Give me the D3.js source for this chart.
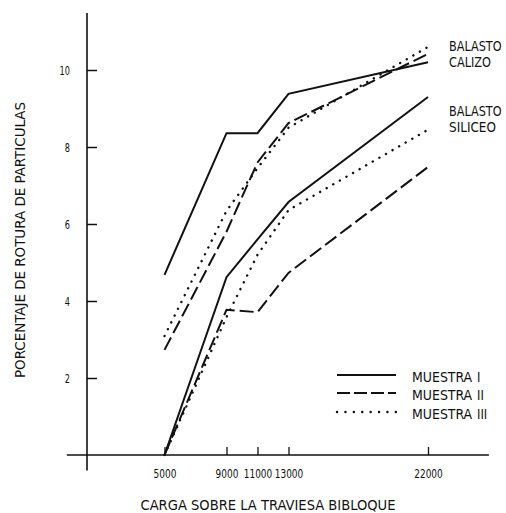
<!DOCTYPE html>
<html>
<head>
<meta charset="utf-8">
<script src="https://cdn.jsdelivr.net/npm/d3@7"></script>
<style>
  html, body { margin: 0; padding: 0; background: #fff; }
  svg text { font-family: "Liberation Sans Narrow", "DejaVu Sans Condensed", "Roboto Condensed", sans-serif; font-stretch: condensed; fill: #111; }
</style>
</head>
<body>
<svg width="506" height="513"></svg>
<script>
// Loads on the bibloque sleeper (x) and breakage percentages (y)
var cargas = [5000, 9000, 11000, 13000, 22000];
var calizoI = [4.68, 8.36, 8.36, 9.38, 10.2];
var calizoII = [2.73, 5.8, 7.6, 8.62, 10.42];
var calizoIII = [3.09, 6.34, 7.45, 8.5, 10.6];
var siliceoI = [0, 4.62, 5.6, 6.57, 9.3];
var siliceoII = [0, 3.77, 3.71, 4.73, 7.48];
var siliceoIII = [0, 3.58, 5.2, 6.36, 8.45];

var yTicks = [2, 4, 6, 8, 10];
var muestras = ["I", "II", "III"];
var dashes = [null, "14,5", "0.1,7.5"];

var svg = d3.select("svg");

var x = d3.scaleLinear().domain([0, 22000]).range([87, 428]);
var y = d3.scaleLinear().domain([0, 10]).range([455, 70]);

// squeeze a label to the width it has in the picture
function narrow(sel, perChar) {
  sel.attr("lengthAdjust", "spacingAndGlyphs")
    .attr("textLength", function() { return this.textContent.length * perChar; });
}

// axes
var yAxis = d3.axisLeft(y).tickValues(yTicks).tickSizeInner(-10).tickSizeOuter(0).tickPadding(17);
var gy = svg.append("g").attr("transform", "translate(" + x(0) + ",0)").call(yAxis);
gy.select(".domain").remove();
gy.selectAll(".tick line").attr("stroke", "#111").attr("stroke-width", 1.5);
gy.selectAll(".tick text").attr("font-size", 12.5).attr("fill", "#111").call(narrow, 5.2);

var xAxis = d3.axisBottom(x).tickValues(cargas).tickSizeInner(-8).tickSizeOuter(0).tickPadding(17);
var gx = svg.append("g").attr("transform", "translate(0," + y(0) + ")").call(xAxis);
gx.select(".domain").remove();
gx.selectAll(".tick line").attr("stroke", "#111").attr("stroke-width", 1.3);
gx.selectAll(".tick text").attr("font-size", 12.5).attr("fill", "#111").attr("dy", "0.45em")
  .text(function(d) { return d; })
  .call(narrow, 5.7);

svg.append("line")
  .attr("x1", x(0)).attr("x2", x(0))
  .attr("y1", y(11.48)).attr("y2", y(-0.4))
  .attr("stroke", "#111").attr("stroke-width", 1.6);
svg.append("line")
  .attr("x1", x(-1300)).attr("x2", x(25930))
  .attr("y1", y(0)).attr("y2", y(0))
  .attr("stroke", "#111").attr("stroke-width", 1.5);

// series
var series = [
  { v: calizoI, m: 0 }, { v: calizoII, m: 1 }, { v: calizoIII, m: 2 },
  { v: siliceoI, m: 0 }, { v: siliceoII, m: 1 }, { v: siliceoIII, m: 2 }
];

var line = d3.line()
  .x(function(d, i) { return x(cargas[i]); })
  .y(function(d) { return y(d); });

svg.append("g").selectAll("path")
  .data(series)
  .join("path")
  .attr("d", function(s) { return line(s.v); })
  .attr("fill", "none")
  .attr("stroke", "#111")
  .attr("stroke-width", function(s) { return s.m == 2 ? 2.4 : 2; })
  .attr("stroke-linecap", function(s) { return s.m == 2 ? "round" : "butt"; })
  .attr("stroke-dasharray", function(s) { return dashes[s.m]; });

// labels at right
var bal = svg.append("g").attr("font-size", 14);
bal.append("text").attr("x", 449).attr("y", 51).text("BALASTO").call(narrow, 7.5);
bal.append("text").attr("x", 449).attr("y", 67).text("CALIZO").call(narrow, 7);
bal.append("text").attr("x", 449).attr("y", 116).text("BALASTO").call(narrow, 7.5);
bal.append("text").attr("x", 449).attr("y", 132).text("SILICEO").call(narrow, 6.7);

// legend
var leg = svg.append("g").selectAll("g")
  .data(muestras)
  .join("g")
  .attr("transform", function(d, i) { return "translate(0," + [375, 393, 412][i] + ")"; });
leg.append("line")
  .attr("x1", 337).attr("x2", 396)
  .attr("stroke", "#111")
  .attr("stroke-width", function(d, i) { return i == 2 ? 2.4 : 2; })
  .attr("stroke-linecap", function(d, i) { return i == 2 ? "round" : "butt"; })
  .attr("stroke-dasharray", function(d, i) { return i == 2 ? "0.1,8.3" : (i == 1 ? "13,4" : null); });
leg.append("text")
  .attr("x", 412).attr("y", 6.5)
  .attr("font-size", 14)
  .text("MUESTRA")
  .call(narrow, 8.6);
leg.append("text")
  .attr("x", 477).attr("y", 6.5)
  .attr("font-size", 14)
  .text(function(d) { return d; })
  .call(narrow, 3.4);

// axis titles
svg.append("text")
  .attr("x", 268).attr("y", 510)
  .attr("text-anchor", "middle")
  .attr("font-size", 14.5)
  .attr("textLength", 255).attr("lengthAdjust", "spacingAndGlyphs")
  .text("CARGA SOBRE LA TRAVIESA BIBLOQUE");

svg.append("text")
  .attr("transform", "translate(25,240) rotate(-90)")
  .attr("text-anchor", "middle")
  .attr("font-size", 14.5)
  .attr("textLength", 276).attr("lengthAdjust", "spacingAndGlyphs")
  .text("PORCENTAJE DE ROTURA DE PARTICULAS");
</script>
</body>
</html>
